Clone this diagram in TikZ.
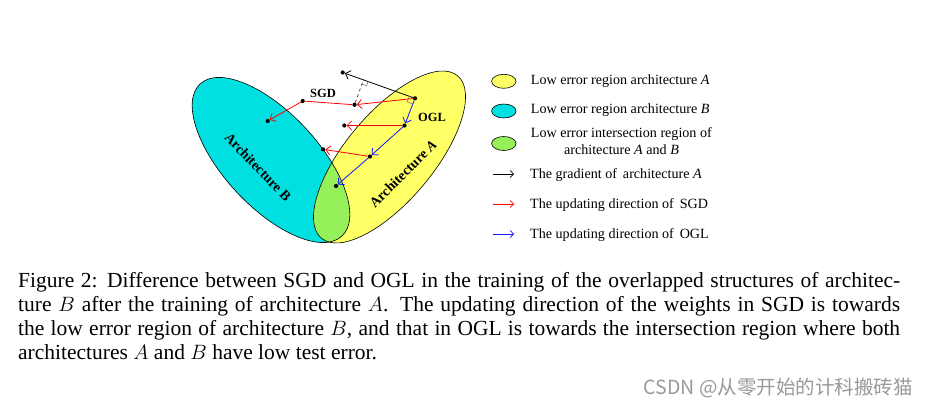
\documentclass[tikz,border=0pt]{standalone}
\usepackage{fontspec}
\setmainfont{Liberation Serif}
\newfontfamily\cjkfont{Noto Sans CJK SC}
\usetikzlibrary{arrows.meta}
\definecolor{yel}{RGB}{255,255,102}
\definecolor{cya}{RGB}{0,224,224}
\definecolor{grn}{RGB}{150,240,90}
\definecolor{redA}{RGB}{255,0,0}
\definecolor{bluA}{RGB}{20,20,255}
\tikzset{
  ptdot/.style={circle,fill=black,inner sep=0pt,minimum size=4.2pt},
  myarr/.style={line width=0.8pt,-{Straight Barb[length=4.5pt,width=9pt]}},
  legarr/.style={line width=0.7pt,-{Straight Barb[length=3.5pt,width=7pt]}},
  redarr/.style={myarr,draw=redA},
  bluarr/.style={myarr,draw=bluA},
  blkarr/.style={myarr,draw=black},
  legtext/.style={anchor=base west,inner sep=0pt,font=\fontsize{14.1}{16}\selectfont},
  captext/.style={anchor=base west,inner sep=0pt,font=\fontsize{21.5}{24.3}\selectfont},
  lbltext/.style={inner sep=0pt,font=\fontsize{12.5}{14}\selectfont\bfseries},
  archlbl/.style={inner sep=0pt,font=\fontsize{14}{16}\selectfont\bfseries},
  ellout/.style={draw=black,line width=0.6pt},
  legell/.style={draw=black,line width=0.6pt}
}
\begin{document}
\begin{tikzpicture}[x=1pt,y=-1pt]
\useasboundingbox (0,0) rectangle (929,407);
\fill[white] (0,0) rectangle (929,407);
\def\ellB{(271,160) ellipse [x radius=104pt, y radius=47pt, rotate=-47]}
\def\ellA{(389.5,157) ellipse [x radius=106pt, y radius=44pt, rotate=50]}
% regions
\fill[cya] \ellB;
\fill[yel] \ellA;
\begin{scope}
  \clip \ellA;
  \fill[grn] \ellB;
\end{scope}
\draw[ellout] \ellB;
\draw[ellout] \ellA;
% labels on regions
\node[archlbl,rotate=-46] (labB) at (258,167) {Architecture B};
\node[archlbl,rotate=45] (labA) at (403,174) {Architecture \textit{A}};
% points
\node[ptdot] (p0) at (415,98.3) {};
\node[ptdot] (g) at (342.7,72.5) {};
\node[ptdot] (q0) at (354.5,104.8) {};
\node[ptdot] (s0) at (302.7,101) {};
\node[ptdot] (sB) at (267.7,121) {};
\node[ptdot] (p1) at (404.5,125.5) {};
\node[ptdot] (q1) at (344.3,125.5) {};
\node[ptdot] (p2) at (370,156.5) {};
\node[ptdot] (q2) at (323,149.3) {};
\node[ptdot] (p3) at (336,186) {};
\coordinate (f) at (363.6,79.4);
% gradient and construction
\draw[blkarr] (p0) -- (g);
\draw[dashed,line width=0.7pt,black!75] (q0) -- (f);
\draw[gray,line width=0.6pt] (368.3,81.1) -- (366.6,85.8) -- (361.9,84.1);
\draw[gray,line width=0.6pt] (409.4,96.2) -- (407.2,101.8) -- (412.8,103.9);
% SGD path
\draw[redarr] (p0) -- (q0);
\draw[line width=0.8pt,redA] (q0) -- (s0);
\draw[redarr] (s0) -- (sB);
\draw[redarr] (p1) -- (q1);
\draw[redarr] (p2) -- (q2);
% OGL path
\draw[bluarr] (p0) -- (p1);
\draw[bluarr] (p1) -- (p2);
\draw[bluarr] (p2) -- (p3);
\node[lbltext] (sgd) at (323,93) {SGD};
\node[lbltext] (ogl) at (432,117) {OGL};
% legend
\draw[legell,fill=yel] (503.8,81.3) ellipse [x radius=12.2pt, y radius=7pt];
\draw[legell,fill=cya] (503.8,111) ellipse [x radius=12.2pt, y radius=7pt];
\draw[legell,fill=grn] (503.8,143.5) ellipse [x radius=12.2pt, y radius=7pt];
\node[legtext] (l1) at (530.7,84.3) {Low error region architecture \textit{A}};
\node[legtext] (l2) at (530.7,113) {Low error region architecture \textit{B}};
\node[legtext] (l3) at (530.7,137) {Low error intersection region of};
\node[legtext,anchor=base] (l3b) at (621.5,154.5) {architecture \textit{A} and \textit{B}};
\coordinate (a1s) at (493,174);
\coordinate (a1e) at (514,174);
\coordinate (a2s) at (493,204);
\coordinate (a2e) at (514,204);
\coordinate (a3s) at (493,234);
\coordinate (a3e) at (514,234);
\draw[legarr,draw=black] (a1s) -- (a1e);
\draw[legarr,draw=redA] (a2s) -- (a2e);
\draw[legarr,draw=bluA] (a3s) -- (a3e);
\node[legtext] (l4) at (530,178) {The gradient of\, architecture \textit{A}};
\node[legtext] (l5) at (530,208) {The updating direction of\, SGD};
\node[legtext] (l6) at (530,238) {The updating direction of\, OGL};
% caption
\node[captext] (c1) at (18,287) {\makebox[882pt][s]{Figure 2: Difference between SGD and OGL in the training of the overlapped structures of architec-}};
\node[captext] (c2) at (18,311.2) {\makebox[882pt][s]{ture $B$ after the training of architecture $A$. The updating direction of the weights in SGD is towards}};
\node[captext] (c3) at (18,335.4) {\makebox[882pt][s]{the low error region of architecture $B$, and that in OGL is towards the intersection region where both}};
\node[captext] (c4) at (18,359.6) {architectures $A$ and $B$ have low test error.};
% watermark
\node[anchor=base east,inner sep=0pt,font=\cjkfont\fontsize{19.5}{20}\selectfont,text=black!40] (wm) at (913,394) {CSDN @从零开始的计科搬砖猫};
\end{tikzpicture}
\end{document}
